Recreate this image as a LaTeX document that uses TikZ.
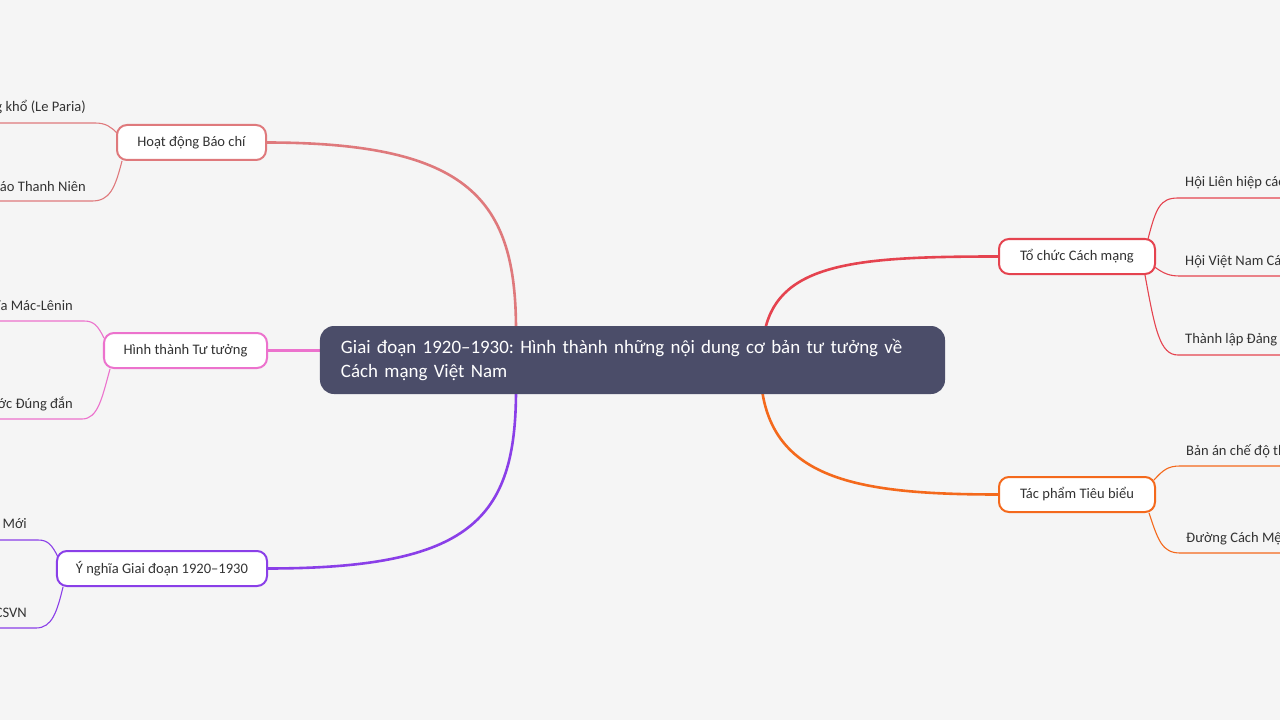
\documentclass[tikz,border=0pt]{standalone}
\usepackage{fontspec}
\setmainfont{Carlito}
\usetikzlibrary{calc}
\definecolor{bg}{HTML}{F5F5F5}
\definecolor{cbc}{HTML}{DF797C}
\definecolor{cht}{HTML}{EC72CD}
\definecolor{cyn}{HTML}{8A3FE8}
\definecolor{ctc}{HTML}{E5434F}
\definecolor{ctp}{HTML}{F4691C}
\definecolor{cnode}{HTML}{4B4D69}
\definecolor{ctext}{HTML}{333333}
\tikzset{
  topic/.style={draw, fill=white, line width=2bp, rounded corners=10bp, minimum height=35bp,
    inner sep=0pt, text=ctext, font=\fontsize{14.6}{16}\selectfont},
  leaf/.style={inner sep=0pt, text=ctext, font=\fontsize{14.6}{16}\selectfont},
  mainline/.style={line width=2.6bp},
  leafline/.style={line width=1.1bp},
}
\begin{document}
\frenchspacing
\begin{tikzpicture}[x=1bp,y=-1bp]
\clip (0,0) rectangle (1280,720);
\useasboundingbox (0,0) rectangle (1280,720);
\fill[bg] (0,0) rectangle (1280,720);

\coordinate (hbE) at (266,142.5);
\coordinate (htE) at (267,350.5);
\coordinate (ynE) at (267,568.5);
\coordinate (tcW) at (999,256.5);
\coordinate (tpW) at (999,494.5);

\draw[mainline, cbc] (hbE) .. controls (470,142.5) and (516,200) .. (516,330);
\draw[mainline, cht] (htE) -- (324,350.5);
\draw[mainline, cyn] (ynE) .. controls (470,568.5) and (516,520) .. (516,390);
\draw[mainline, ctc] (765,330) .. controls (780,262) and (860,256.5) .. (tcW);
\draw[mainline, ctp] (762,390) .. controls (775,480) and (860,494.5) .. (tpW);

% central node
\node[fill=cnode, rounded corners=14bp, minimum width=625bp, minimum height=68bp,
  text width=583bp, align=left, inner xsep=21bp, inner ysep=0pt, text=white,
  font=\fontsize{19}{25}\selectfont] (c) at (632.5,360)
  {Giai đoạn 1920–1930: Hình thành những nội dung cơ bản tư tưởng về\\Cách mạng Việt Nam};

% branch topics
\node[topic, draw=cbc, minimum width=149bp] (hb) at (191.5,142.5) {Hoạt động Báo chí};
\node[topic, draw=cht, minimum width=163bp] (ht) at (185.5,350.5) {Hình thành Tư tưởng};
\node[topic, draw=cyn, minimum width=210bp] (yn) at (162,568.5) {Ý nghĩa Giai đoạn 1920–1930};
\node[topic, draw=ctc, minimum width=156bp] (tc) at (1077,256.5) {Tổ chức Cách mạng};
\node[topic, draw=ctp, minimum width=156bp] (tp) at (1077,494.5) {Tác phẩm Tiêu biểu};

% leaves left
\node[leaf, anchor=east] (l1) at (86,107) {Báo Người cùng khổ (Le Paria)};
\node[leaf, anchor=east] (l2) at (86,187) {Báo Thanh Niên};
\node[leaf, anchor=east] (l3) at (73,306) {Tiếp thu Chủ nghĩa Mác-Lênin};
\node[leaf, anchor=east] (l4) at (73,404) {Tìm ra Con đường Cứu nước Đúng đắn};
\node[leaf, anchor=east] (l5) at (27,525) {Mở ra Thời kỳ Cách mạng Mới};
\node[leaf, anchor=east] (l6) at (27,613) {Chuẩn bị cho sự ra đời của ĐCSVN};
% leaves right
\node[leaf, anchor=west] (r1) at (1185,183) {Hội Liên hiệp các Dân tộc Thuộc địa};
\node[leaf, anchor=west] (r2) at (1185,262) {Hội Việt Nam Cách mạng Thanh niên};
\node[leaf, anchor=west] (r3) at (1185,340) {Thành lập Đảng Cộng sản Việt Nam};
\node[leaf, anchor=west] (r4) at (1186,451) {Bản án chế độ thực dân Pháp};
\node[leaf, anchor=west] (r5) at (1186,539) {Đường Cách Mệnh};

% leaf connectors left
\draw[leafline, cbc] ($(hb.north west)+(1,9)$) .. controls (111,127) and (106,123) .. (95,123) -- ([xshift=-20bp]l1.south west |- 0,123);
\draw[leafline, cbc] ($(hb.south west)+(6,0)$) .. controls (115,188) and (110,201) .. (92,201) -- ([xshift=-20bp]l2.south west |- 0,201);
\draw[leafline, cht] ($(ht.north west)+(1,6)$) .. controls (98,326) and (94,321) .. (84,321) -- ([xshift=-20bp]l3.south west |- 0,321);
\draw[leafline, cht] ($(ht.south west)+(7,0)$) .. controls (102,398) and (98,419) .. (82,419) -- ([xshift=-20bp]l4.south west |- 0,419);
\draw[leafline, cyn] ($(yn.north west)+(2,7)$) .. controls (52,545) and (48,540) .. (38,540) -- ([xshift=-20bp]l5.south west |- 0,540);
\draw[leafline, cyn] ($(yn.south west)+(7,0)$) .. controls (57,612) and (52,628) .. (36,628) -- ([xshift=-20bp]l6.south west |- 0,628);
% leaf connectors right
\draw[leafline, ctc] ($(tc.north east)+(-8,1)$) .. controls (1156,208) and (1160,198) .. (1178,198) -- ([xshift=20bp]r1.south east |- 0,198);
\draw[leafline, ctc] ($(tc.east)+(-2,10)$) .. controls (1164,274) and (1170,276) .. (1180,276) -- ([xshift=20bp]r2.south east |- 0,276);
\draw[leafline, ctc] ($(tc.south west)+(147,0)$) .. controls (1155,330) and (1160,355) .. (1178,355) -- ([xshift=20bp]r3.south east |- 0,355);
\draw[leafline, ctp] ($(tp.north east)+(-2,4)$) .. controls (1163,470) and (1168,466) .. (1180,466) -- ([xshift=20bp]r4.south east |- 0,466);
\draw[leafline, ctp] ($(tp.south east)+(-7,0)$) .. controls (1158,540) and (1162,553) .. (1180,553) -- ([xshift=20bp]r5.south east |- 0,553);
\end{tikzpicture}
\end{document}
